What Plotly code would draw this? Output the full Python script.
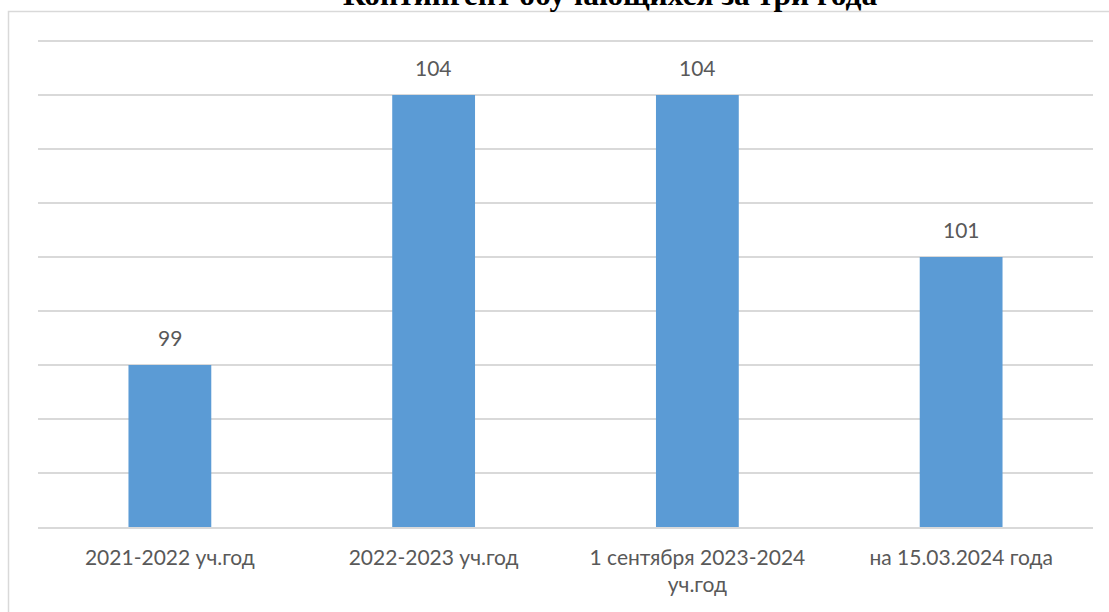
import plotly.graph_objects as go

categories = ["2021-2022 уч.год", "2022-2023 уч.год", "1 сентября 2023-2024<br>уч.год", "на 15.03.2024 года"]
values = [99, 104, 104, 101]
title_text = "Контингент обучающихся за три года"

W, H = 1109, 612
ML, MR, MT, MB = 38, 16, 40, 85
PW, PH = W - ML - MR, H - MT - MB

def px_to_paper_x(px):
    return (px - ML) / PW

def px_to_paper_y(py):
    return (H - MB - py) / PH

fig = go.Figure()
fig.add_trace(go.Bar(
    x=categories, y=values,
    marker=dict(color="#5B9BD5", line=dict(width=0)),
    hoverinfo="skip",
))

for c, v in zip(categories, values):
    fig.add_annotation(
        x=c, y=v, xref="x", yref="y", text=str(v), showarrow=False,
        yanchor="middle", yshift=28,
        font=dict(family="Lato", size=21, color="#595959"),
    )

fig.add_annotation(
    x=px_to_paper_x(609.5), y=px_to_paper_y(-6), xref="paper", yref="paper",
    text="<b>" + title_text + "</b>", showarrow=False,
    xanchor="center", yanchor="middle",
    font=dict(family="Liberation Serif", size=31.5, color="#000000"),
)

fig.add_shape(
    type="rect", xref="paper", yref="paper",
    x0=px_to_paper_x(8.5), x1=px_to_paper_x(1120),
    y0=px_to_paper_y(640), y1=px_to_paper_y(11.5),
    line=dict(color="#D9D9D9", width=1.5), fillcolor="rgba(0,0,0,0)", layer="below",
)

fig.update_layout(
    width=W, height=H,
    margin=dict(l=ML, r=MR, t=MT, b=MB, pad=0),
    paper_bgcolor="white", plot_bgcolor="white",
    bargap=0.686,
    showlegend=False,
    xaxis=dict(
        showgrid=False, showline=True, linecolor="#D9D9D9", linewidth=1.5,
        ticks="", tickfont=dict(family="Lato", size=21, color="#595959"),
        ticklabelstandoff=11,
    ),
    yaxis=dict(
        range=[96, 105.02], dtick=1, tick0=96, showticklabels=False,
        showgrid=True, gridcolor="#D9D9D9", gridwidth=1.5,
        zeroline=False, showline=False, ticks="",
    ),
)

fig.write_html(
    "out.html",
    config={"displayModeBar": False, "staticPlot": True},
    post_script="document.body.style.margin='0px';document.body.style.overflow='hidden';",
)
